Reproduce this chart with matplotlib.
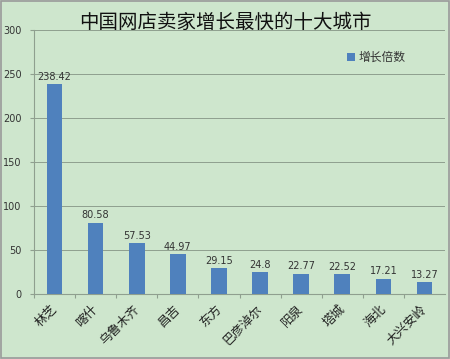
import matplotlib
matplotlib.use("Agg")
import matplotlib.pyplot as plt
from matplotlib.patches import Rectangle

plt.rcParams['font.family'] = ['Noto Sans CJK SC', 'DejaVu Sans']

title = "中国网店卖家增长最快的十大城市"
cities = ["林芝", "喀什", "乌鲁木齐", "昌吉", "东方", "巴彦淖尔", "阳泉", "塔城", "海北", "大兴安岭"]
values = [238.42, 80.58, 57.53, 44.97, 29.15, 24.8, 22.77, 22.52, 17.21, 13.27]
value_labels = ["238.42", "80.58", "57.53", "44.97", "29.15", "24.8", "22.77", "22.52", "17.21", "13.27"]
series_name = "增长倍数"
yticks = [0, 50, 100, 150, 200, 250, 300]

bg = "#CEE6CD"
bar_color = "#4F81BD"
grid_c = "#8f9f8f"

fig = plt.figure(figsize=(4.5, 3.59), dpi=100, facecolor=bg)
fig.patches.append(Rectangle((0.003, 0.003), 0.994, 0.994, transform=fig.transFigure,
                             fill=False, edgecolor="#9a9a9a", lw=1.2))
ax = fig.add_axes([34/450, 1-294/359, (445-34)/450, (294-30)/359])
ax.set_facecolor(bg)

x = list(range(len(cities)))
ax.bar(x, values, width=0.38, color=bar_color, zorder=3, label=series_name)
for xi, v, lab in zip(x, values, value_labels):
    ax.text(xi, v + 3, lab, ha="center", va="bottom", fontsize=7, color="#333333",
            family=["DejaVu Sans"])

ax.set_ylim(0, 300)
ax.set_xlim(-0.5, len(cities) - 0.5)
ax.set_yticks(yticks)
ax.set_yticklabels([str(t) for t in yticks], fontsize=7, color="#333333", family=["DejaVu Sans"])
ax.yaxis.grid(True, color=grid_c, lw=0.7, zorder=0)
ax.set_xticks([i + 0.5 for i in x[:-1]] + [-0.5], minor=False)
ax.set_xticklabels([""] * len(cities))
ax.tick_params(axis="x", length=3, color=grid_c, direction="out")
ax.tick_params(axis="y", length=3, color=grid_c, pad=6)
for i, c in enumerate(cities):
    ax.text(i + 0.12, -10, c, rotation=45, ha="right", va="top", fontsize=9, color="#222222")

for s in ["top", "right"]:
    ax.spines[s].set_visible(False)
for s in ["left", "bottom"]:
    ax.spines[s].set_color(grid_c)
    ax.spines[s].set_linewidth(0.8)

leg = ax.legend(loc="upper right", bbox_to_anchor=(0.93, 0.96), frameon=False, fontsize=8.5,
                handlelength=0.7, handleheight=0.7, handletextpad=0.3)
for t in leg.get_texts():
    t.set_color("#333333")
fig.text(0.5, 1 - 22/359, title, ha="center", va="center", fontsize=14, color="#111111")

fig.savefig("out.png", dpi=100, facecolor=bg)
